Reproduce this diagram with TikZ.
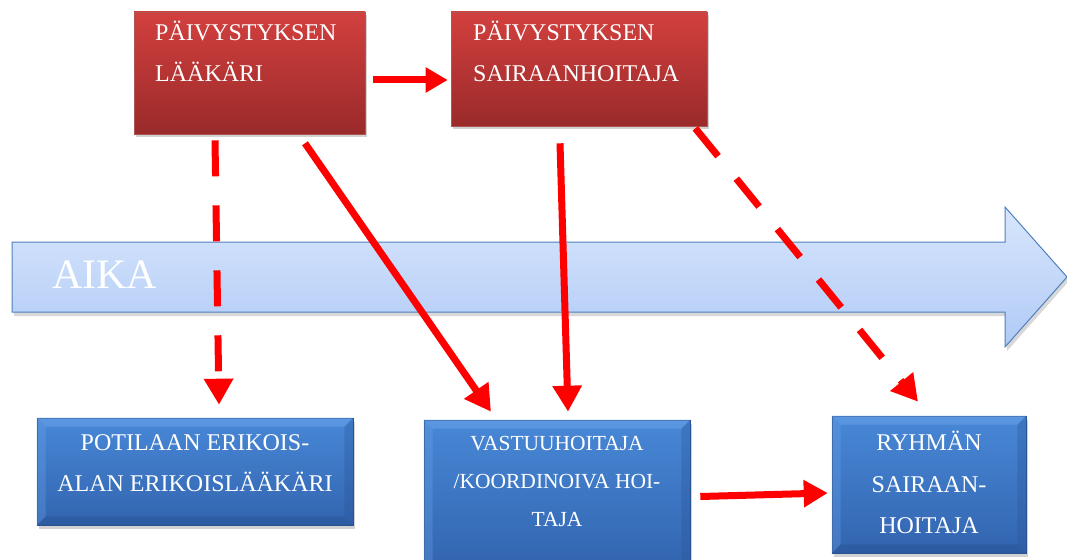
\documentclass[tikz,border=0pt]{standalone}
\usepackage{fontspec}
\setmainfont{Liberation Serif}
\usetikzlibrary{shadows,arrows.meta,calc}
\definecolor{redtop}{RGB}{210,64,62}
\definecolor{redbot}{RGB}{154,42,42}
\definecolor{bluetop}{RGB}{72,136,215}
\definecolor{bluebot}{RGB}{50,100,175}
\definecolor{bevlight}{RGB}{110,165,235}
\definecolor{bevdark}{RGB}{40,82,145}
\definecolor{arrtop}{RGB}{216,230,252}
\definecolor{arrbot}{RGB}{176,202,246}
\definecolor{arredge}{RGB}{79,129,189}
\definecolor{linered}{RGB}{255,0,0}
\begin{document}
\begin{tikzpicture}[x=1pt,y=-1pt,
  redbox/.style={draw=redbot!80!white,line width=0.6pt,top color=redtop,bottom color=redbot,
    drop shadow={shadow xshift=2pt,shadow yshift=-3pt,opacity=0.35},inner sep=0pt},
  bluebox/.style={draw=bevdark,line width=0.6pt,top color=bluetop,bottom color=bluebot,
    drop shadow={shadow xshift=2pt,shadow yshift=-4pt,opacity=0.35},inner sep=0pt},
  redtxt/.style={text=white,font=\fontsize{24}{41}\selectfont,align=left,anchor=north west,inner sep=0pt},
  bluetxt/.style={text=white,font=\fontsize{24}{41}\selectfont,align=center,inner sep=0pt},
  conn/.style={draw=linered,line width=7pt,-{Triangle[length=26pt,width=28pt]}},
  dconn/.style={conn,dash pattern=on 36pt off 29pt}
]
\useasboundingbox (0,0) rectangle (1067,559);
\fill[white] (0,0) rectangle (1067,559);

% time arrow
\path[draw=arredge,line width=1pt,top color=arrtop,bottom color=arrbot,
  drop shadow={shadow xshift=2pt,shadow yshift=-4pt,opacity=0.3}]
  (12,242) -- (1005,242) -- (1005,207) -- (1067,277) -- (1005,347) -- (1005,312) -- (12,312) -- cycle;
\node[text=white,font=\fontsize{42}{42}\selectfont,anchor=west,inner sep=0pt] (aika) at (52,275) {AIKA};

% red boxes
\node[redbox,minimum width=231pt,minimum height=122pt] (l1) at (249.5,73) {};
\node[redtxt] (l1t) at (155,21) {PÄIVYSTYKSEN\\LÄÄKÄRI};
\node[redbox,minimum width=256pt,minimum height=114pt] (l2) at (579,69) {};
\node[redtxt] (l2t) at (473,21) {PÄIVYSTYKSEN\\SAIRAANHOITAJA};

% blue boxes
\node[bluebox,minimum width=316pt,minimum height=107pt] (pa) at (195,471.5) {};
\node[bluebox,minimum width=266pt,minimum height=150pt] (pb) at (557,495) {};
\node[bluebox,minimum width=194pt,minimum height=137pt] (pc) at (929,484.5) {};

% bevels
\foreach \n in {pa,pb,pc}{
  \fill[bevlight,opacity=0.5] (\n.north west) -- (\n.north east) -- ($(\n.north east)+(-9,9)$) -- ($(\n.north west)+(9,9)$) -- cycle;
  \fill[bevlight,opacity=0.3] (\n.north west) -- ($(\n.north west)+(9,9)$) -- ($(\n.south west)+(9,-9)$) -- (\n.south west) -- cycle;
  \fill[bevdark,opacity=0.3] (\n.north east) -- ($(\n.north east)+(-9,9)$) -- ($(\n.south east)+(-9,-9)$) -- (\n.south east) -- cycle;
  \fill[bevdark,opacity=0.45] (\n.south west) -- ($(\n.south west)+(9,-9)$) -- ($(\n.south east)+(-9,-9)$) -- (\n.south east) -- cycle;
}

\node[bluetxt] (pat) at (195,463.5) {POTILAAN ERIKOIS-\\ALAN ERIKOISLÄÄKÄRI};
\node[bluetxt,font=\fontsize{21.5}{38}\selectfont] (pbt) at (557,481) {VASTUUHOITAJA\\/KOORDINOIVA HOI-\\TAJA};
\node[bluetxt,font=\fontsize{24}{41.5}\selectfont] (pct) at (929,482.5) {RYHMÄN\\SAIRAAN-\\HOITAJA};

% connectors
\draw[conn,-{Triangle[length=22pt,width=24pt]}] ($(l1.east)+(8,7)$) -- ($(l2.west)+(-3,11)$);
\draw[dconn] ($(l1.south)+(-34.5,6)$) -- ($(pa.north)+(24,-13)$);
\draw[conn] ($(l1.south)+(55.5,9)$) -- ($(pb.north)+(-66,-8)$);
\draw[conn] ($(l2.south)+(-19,17)$) -- ($(pb.north)+(11,-8)$);
\draw[dconn] ($(l2.south east)+(-12,2)$) -- ($(pc.north)+(-11,-14)$);
\draw[conn,-{Triangle[length=24pt,width=26pt]}] ($(pb.east)+(10,1.5)$) -- ($(pc.west)+(-4,8.5)$);
\end{tikzpicture}
\end{document}
